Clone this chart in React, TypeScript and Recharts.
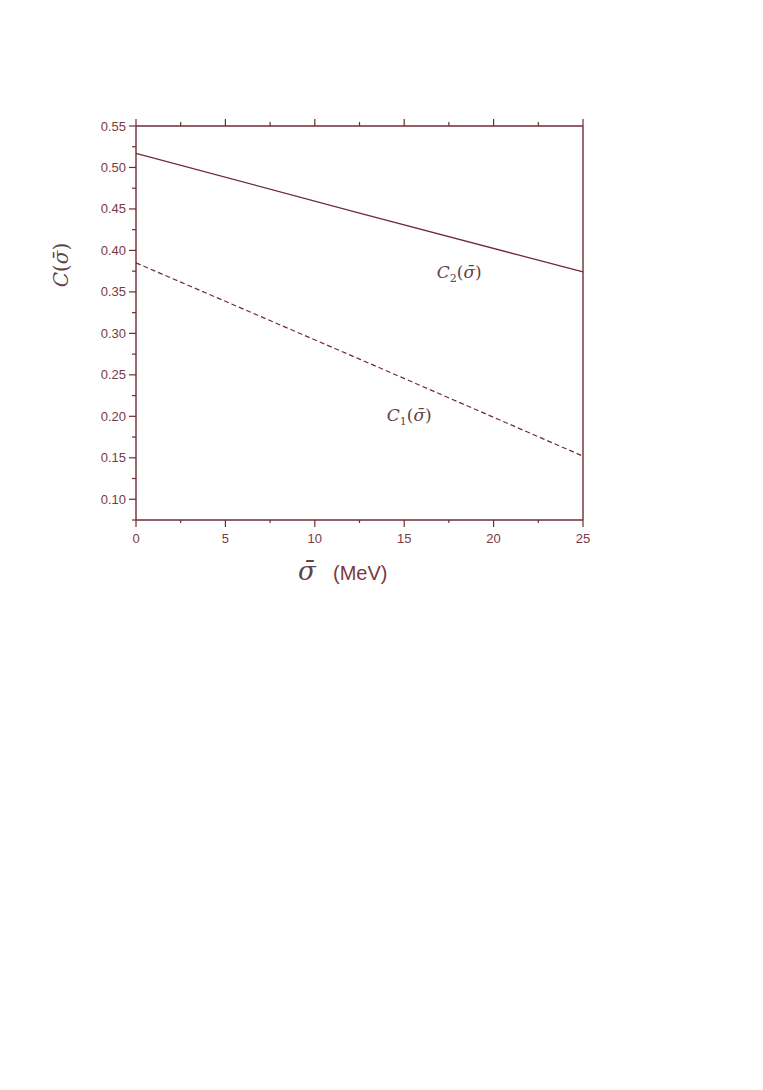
import { LineChart, Line, XAxis, YAxis, ReferenceDot } from 'recharts';

// sigma-bar in MeV
const sigma = [0, 12.5, 25];
const c1Values = [0.385, 0.269, 0.152];
const c2Values = [0.517, 0.445, 0.374];

const xTicks = [0, 2.5, 5, 7.5, 10, 12.5, 15, 17.5, 20, 22.5, 25];
const xLabels = [0, 5, 10, 15, 20, 25];
const yTicks = [0.075, 0.1, 0.125, 0.15, 0.175, 0.2, 0.225, 0.25, 0.275, 0.3, 0.325, 0.35, 0.375, 0.4, 0.425, 0.45, 0.475, 0.5, 0.525, 0.55];
const yLabels = ['0.10', '0.15', '0.20', '0.25', '0.30', '0.35', '0.40', '0.45', '0.50', '0.55'];

const data = sigma.map((s, i) => ({ sigma: s, c1: c1Values[i], c2: c2Values[i] }));

const AXIS = '#6e2c34';
const TEXT = '#7a3a42';
const MATH = '#5e4444';

function isMajorX(v: number) {
  return xLabels.includes(v);
}

function BottomTick(props: any) {
  const { x, y, payload } = props;
  const major = isMajorX(payload.value);
  return (
    <g>
      <line x1={x} y1={y} x2={x} y2={y + (major ? 7 : 3)} stroke={AXIS} strokeWidth={1.2} />
      {major && (
        <text x={x} y={y + 23} textAnchor="middle" fill={TEXT} fontSize={13} fontFamily="'Liberation Sans', Arial, sans-serif">
          {payload.value}
        </text>
      )}
    </g>
  );
}

function TopTick(props: any) {
  const { x, y, payload } = props;
  const major = isMajorX(payload.value);
  return <line x1={x} y1={y} x2={x} y2={y - (major ? 7 : 4)} stroke={AXIS} strokeWidth={1.2} />;
}

function LeftTick(props: any) {
  const { x, y, payload } = props;
  const label = payload.value.toFixed(2);
  const major = yLabels.includes(label) && Math.abs(Math.round(payload.value * 20) - payload.value * 20) < 1e-6;
  return (
    <g>
      <line x1={x} y1={y} x2={x - (major ? 7 : 4)} y2={y} stroke={AXIS} strokeWidth={1.2} />
      {major && (
        <text x={x - 10} y={y + 4.5} textAnchor="end" fill={TEXT} fontSize={13} fontFamily="'Liberation Sans', Arial, sans-serif">
          {label}
        </text>
      )}
    </g>
  );
}

function MathLabel(sub: string) {
  return (props: any) => {
    const { viewBox } = props;
    const cx = viewBox.x;
    const cy = viewBox.y;
    return (
      <text x={cx - 21} y={cy + 6} fill={MATH} fontSize={17} fontFamily="'DejaVu Serif', 'Liberation Serif', serif">
        <tspan fontStyle="italic">C</tspan>
        <tspan fontSize={11} dy={4}>{sub}</tspan>
        <tspan dy={-4}>(</tspan>
        <tspan fontStyle="italic">σ̄</tspan>
        <tspan>)</tspan>
      </text>
    );
  };
}

export default function App() {
  return (
    <div style={{ position: 'absolute', left: 0, top: 0, width: 763, height: 1090, background: '#fff' }}>
      <LineChart width={763} height={600} data={data} margin={{ top: 125, right: 179, bottom: 50, left: 76 }}>
        <XAxis
          xAxisId="bottom"
          dataKey="sigma"
          type="number"
          domain={[0, 25]}
          ticks={xTicks}
          interval={0}
          height={30}
          tickSize={0}
          tickMargin={0}
          tickLine={false}
          axisLine={{ stroke: AXIS, strokeWidth: 1.4 }}
          tick={<BottomTick />}
        />
        <XAxis
          xAxisId="top"
          orientation="top"
          dataKey="sigma"
          type="number"
          domain={[0, 25]}
          ticks={xTicks}
          interval={0}
          height={1}
          tickSize={0}
          tickMargin={0}
          tickLine={false}
          axisLine={{ stroke: AXIS, strokeWidth: 1.4 }}
          tick={<TopTick />}
        />
        <YAxis
          yAxisId="left"
          type="number"
          domain={[0.075, 0.55]}
          ticks={yTicks}
          interval={0}
          width={60}
          tickSize={0}
          tickMargin={0}
          tickLine={false}
          axisLine={{ stroke: AXIS, strokeWidth: 1.4 }}
          tick={<LeftTick />}
        />
        <YAxis
          yAxisId="right"
          orientation="right"
          type="number"
          domain={[0.075, 0.55]}
          width={1}
          tick={false}
          tickLine={false}
          axisLine={{ stroke: AXIS, strokeWidth: 1.4 }}
        />
        <Line
          xAxisId="bottom"
          yAxisId="left"
          type="linear"
          dataKey="c2"
          stroke={AXIS}
          strokeWidth={1.3}
          dot={false}
          isAnimationActive={false}
        />
        <Line
          xAxisId="bottom"
          yAxisId="left"
          type="linear"
          dataKey="c1"
          stroke={AXIS}
          strokeWidth={1.2}
          strokeDasharray="5 3"
          dot={false}
          isAnimationActive={false}
        />
        <ReferenceDot xAxisId="bottom" yAxisId="left" x={18} y={0.374} r={0} stroke="none" label={MathLabel('2')} />
        <ReferenceDot xAxisId="bottom" yAxisId="left" x={15.2} y={0.201} r={0} stroke="none" label={MathLabel('1')} />
      </LineChart>
      <svg width={763} height={120} style={{ position: 'absolute', left: 0, top: 0, overflow: 'visible', pointerEvents: 'none' }}>
        <text
          transform="translate(68 265) rotate(-90)"
          textAnchor="middle"
          fill={MATH}
          fontSize={20}
          fontFamily="'DejaVu Serif', 'Liberation Serif', serif"
        >
          <tspan fontStyle="italic">C</tspan>
          <tspan>(</tspan>
          <tspan fontStyle="italic">σ̄</tspan>
          <tspan>)</tspan>
        </text>
        <text x={298} y={580} fill={MATH} fontSize={26} fontStyle="italic" fontFamily="'DejaVu Serif', 'Liberation Serif', serif">
          σ̄
        </text>
        <text x={333} y={580} fill={TEXT} fontSize={20} fontFamily="'Liberation Sans', Arial, sans-serif">
          (MeV)
        </text>
      </svg>
    </div>
  );
}
